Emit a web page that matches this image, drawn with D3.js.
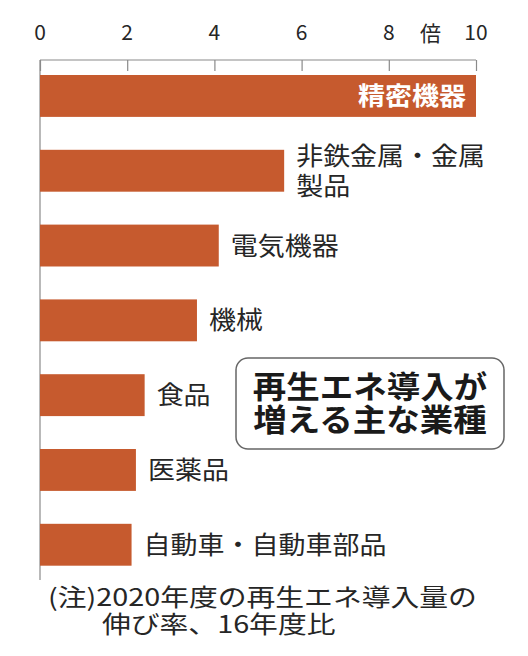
<!DOCTYPE html>
<html><head><meta charset="utf-8">
<script src="https://cdn.jsdelivr.net/npm/d3@7"></script>
<style>
html,body{margin:0;padding:0;background:#fff;}
svg{display:block;}
text{font-family:"Noto Sans CJK JP","Noto Sans",sans-serif;}
</style></head><body>
<svg id="c" width="528" height="656"></svg>
<script>
const categories = ["精密機器","非鉄金属・金属\n製品","電気機器","機械","食品","医薬品","自動車・自動車部品"];
const values = [10, 5.6, 4.1, 3.6, 2.4, 2.2, 2.1];
const tickValues = [0, 2, 4, 6, 8, 10];
const unitLabel = "倍";
const titleLines = ["再生エネ導入が","増える主な業種"];
const noteLines = ["(注)2020年度の再生エネ導入量の","伸び率、16年度比"];

const svg = d3.select("#c");
const x = d3.scaleLinear().domain([0, 10]).range([40, 476]);
const y = d3.scaleBand().domain(categories).range([75, 565.7]).paddingInner(0.44).paddingOuter(0);

const barColor = "#c65a2e";
const textColor = "#262626";
const SX = 1.08;

// multi-line text in a single <text> element, horizontally stretched
function stext(parent, tx, ty, lines, opts) {
  if (!Array.isArray(lines)) lines = [lines];
  const lh = opts.lh || 30;
  const g = parent.append("g").attr("transform", `translate(${tx},${ty}) scale(${opts.sx||SX},1)`);
  const t = g.append("text")
    .attr("text-anchor", opts.anchor || "start")
    .attr("font-size", opts.size)
    .attr("font-weight", opts.weight || "normal")
    .attr("fill", opts.fill || textColor);
  if (opts.family) t.attr("font-family", opts.family);
  const off = (lines.length - 1) / 2;
  lines.forEach((ln, k) => {
    t.append("tspan").attr("x", (opts.dx && opts.dx[k]) || 0)
      .attr("y", (k - off) * lh + opts.size * 0.36)
      .text(ln);
  });
  return t;
}

// axis
const axis = d3.axisBottom(x).tickValues(tickValues).tickSize(11).tickFormat("");
const ag = svg.append("g").attr("transform", "translate(0,60)").call(axis);
ag.select(".domain").attr("stroke", "#8a8a8a").attr("stroke-width", 1.2).attr("d", `M${x(0)},0H${x(10)}`);
ag.selectAll(".tick line").attr("stroke", "#8a8a8a").attr("stroke-width", 1.2);

// tick labels
svg.append("g").selectAll("text").data(tickValues).join("text")
  .attr("x", d => x(d)).attr("y", 40)
  .attr("text-anchor", "middle")
  .attr("font-size", 21).attr("fill", textColor)
  .attr("font-family", "'Liberation Sans Narrow', 'DejaVu Sans Condensed', sans-serif")
  .text(d => d);
stext(svg, (x(8)+x(10))/2 - 2, 33, unitLabel, {size: 21, anchor: "middle", sx: 1});

// vertical baseline
svg.append("line").attr("x1", x(0)).attr("x2", x(0)).attr("y1", 60).attr("y2", 580)
  .attr("stroke", "#8a8a8a").attr("stroke-width", 1.2);

// bars
svg.append("g").selectAll("rect").data(values).join("rect")
  .attr("x", x(0)).attr("y", (d,i) => y(categories[i]))
  .attr("width", d => x(d) - x(0)).attr("height", y.bandwidth())
  .attr("fill", barColor);

// labels
const lg = svg.append("g");
values.forEach((v, i) => {
  const cy = y(categories[i]) + y.bandwidth()/2;
  const lines = categories[i].split("\n");
  if (i === 0) {
    stext(lg, x(v) - 10, cy, lines, {size: 25, weight: "bold", anchor: "end", fill: "#fff"});
  } else {
    stext(lg, x(v) + 12, cy, lines, {size: 25, lh: 30});
  }
});

// title box
svg.append("rect").attr("x", 236).attr("y", 358).attr("width", 268).attr("height", 91)
  .attr("rx", 12).attr("fill", "#fff").attr("stroke", "#666").attr("stroke-width", 1.5);
stext(svg, 370, 403, titleLines, {size: 31, weight: "bold", anchor: "middle", sx: 1.08, fill: "#1a1a1a", lh: 33});

// note
stext(svg, 48, 611, noteLines, {size: 24, sx: 1.2, lh: 27, dx: [0, 45]});
</script>
</body></html>
